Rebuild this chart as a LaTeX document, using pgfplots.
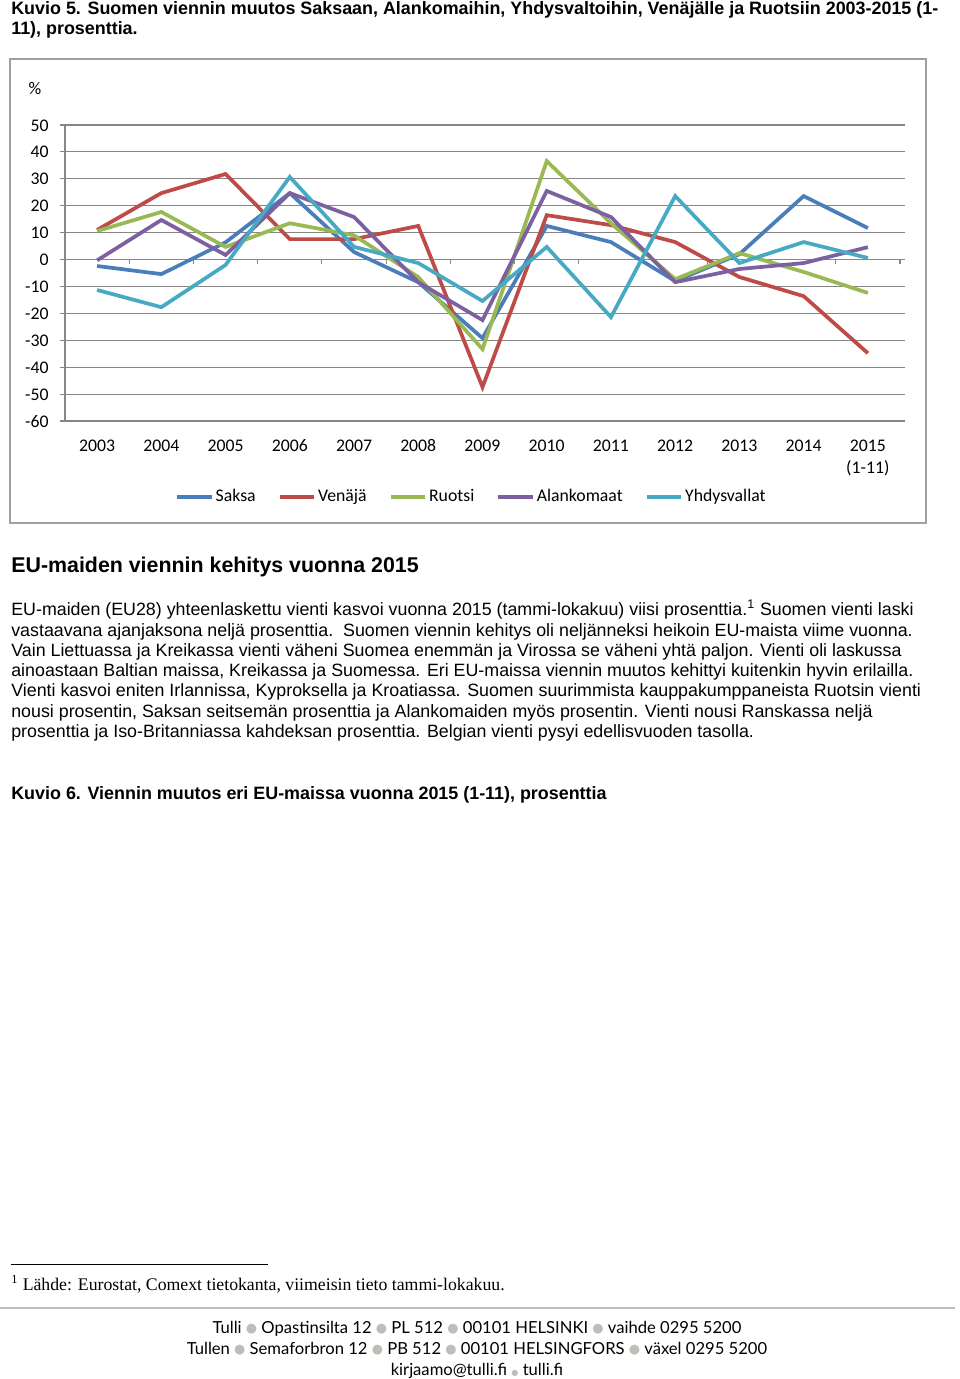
\documentclass[border=0pt]{standalone}
\usepackage{fontspec}
\usepackage{pgfplots}
\usepackage{pgfplotstable}
\usepackage{graphicx}
\pgfplotsset{compat=1.18}
\setmainfont{Liberation Sans}
\newfontfamily\calibri{Carlito}
\newfontfamily\serifont{Liberation Serif}
\newfontfamily\gill{Lato}
\newfontfamily\dejavu{DejaVu Sans}
\definecolor{saksa}{RGB}{74,126,187}
\definecolor{venaja}{RGB}{190,75,72}
\definecolor{ruotsi}{RGB}{152,185,84}
\definecolor{alank}{RGB}{125,96,160}
\definecolor{yhdys}{RGB}{70,170,197}
\definecolor{gridc}{RGB}{134,134,134}
\definecolor{framec}{RGB}{160,160,160}
\definecolor{bul}{RGB}{190,190,185}
\pgfplotstableread{
year Saksa Venaja Ruotsi Alankomaat Yhdys
2003 -2.4 11 10.6 -0.3 -11.3
2004 -5.4 24.7 17.7 14.7 -17.7
2005 6.4 31.8 4.7 1.7 -2
2006 24.7 7.6 13.5 24.7 30.7
2007 2.8 7.6 9 15.8 4.7
2008 -8.4 12.5 -6.5 -8.4 -1.3
2009 -29.2 -47.4 -33.3 -22.5 -15.4
2010 12.5 16.5 36.6 25.5 4.7
2011 6.5 12.8 13.5 15.8 -21.4
2012 -8 6.5 -7.3 -8.4 23.6
2013 2 -6.5 2.4 -3.5 -1.3
2014 23.6 -13.6 -4.6 -1.3 6.5
2015 11.7 -34.8 -12.4 4.6 0.6
}\datatable
\begin{document}
\begin{tikzpicture}[x=0.62pt,y=-0.62pt]
\fill[white] (0,0) rectangle (960,1379);
\path[use as bounding box] (0,0) rectangle (960,1379);
% titles
\node[anchor=base west,inner sep=0,font=\bfseries\fontsize{11.1}{13}\selectfont] at (11,14) {Kuvio 5. Suomen viennin muutos Saksaan, Alankomaihin, Yhdysvaltoihin, Venäjälle ja Ruotsiin 2003-2015 (1-};
\node[anchor=base west,inner sep=0,font=\bfseries\fontsize{11.1}{13}\selectfont] at (11,34) {11), prosenttia.};
% chart frame
\draw[framec,line width=1.2pt] (10,59) rectangle (926,523);
\node[font=\calibri\fontsize{11}{13}\selectfont] at (35,89) {\%};
\coordinate (A) at (65,421);
\begin{axis}[
  at={(A)}, anchor=south west,
  scale only axis, width=517.7pt, height=183.5pt,
  xmin=2002.5, xmax=2015.5, ymin=-60, ymax=50,
  ytick={-60,-50,...,50},
  xtick={2003,...,2015},
  xticklabels={2003,2004,2005,2006,2007,2008,2009,2010,2011,2012,2013,2014,{2015\\(1-11)}},
  axis line style={draw=none},
  ymajorgrids, major grid style={gridc,line width=0.7pt},
  xtick style={draw=none},
  ytick style={draw=gridc,line width=0.7pt},
  tick align=outside, major tick length=3.1pt,
  ticklabel style={font=\calibri\fontsize{11}{13.6}\selectfont},
  typeset ticklabels with strut,
  xticklabel style={align=center,yshift=-3pt},
  yticklabel style={xshift=-3.5pt,yshift=-1pt},
  /pgf/number format/assume math mode=true,
  legend columns=5,
  legend style={draw=none,fill=none,at={(axis description cs:0.4868,-0.2568)},anchor=center,
    font=\calibri\fontsize{11}{13}\selectfont,
    nodes={inner xsep=1.2pt},
    /tikz/every even column/.append style={column sep=12.5pt}},
  legend image code/.code={\draw[#1] (0pt,0pt) -- (21.5pt,0pt);},
  every axis plot/.append style={line width=2.3pt},
  clip=false,
]
\draw[gridc,line width=0.7pt] (axis cs:2002.5,-60) -- (axis cs:2002.5,50);
\pgfplotsinvokeforeach{2002.5,2003.5,...,2015.5}{\draw[gridc,line width=0.7pt] (axis cs:#1,0) -- ([yshift=-3pt]axis cs:#1,0);}
\addplot[saksa] table[x=year,y=Saksa] {\datatable};
\addplot[venaja] table[x=year,y=Venaja] {\datatable};
\addplot[ruotsi] table[x=year,y=Ruotsi] {\datatable};
\addplot[alank] table[x=year,y=Alankomaat] {\datatable};
\addplot[yhdys] table[x=year,y=Yhdys] {\datatable};
\legend{Saksa,Venäjä,Ruotsi,Alankomaat,Yhdysvallat}
\end{axis}
% heading
\node[anchor=base west,inner sep=0,font=\bfseries\fontsize{13.25}{15}\selectfont] at (11,572) {EU-maiden viennin kehitys vuonna 2015};
% body
\begin{scope}[every node/.style={anchor=base west,inner sep=0,font=\fontsize{11.05}{13}\selectfont}]
\node at (11,615) {EU-maiden (EU28) yhteenlaskettu vienti kasvoi vuonna 2015 (tammi-lokakuu) viisi prosenttia.\textsuperscript{1} Suomen vienti laski};
\node at (11,636) {vastaavana ajanjaksona neljä prosenttia.\ \ Suomen viennin kehitys oli neljänneksi heikoin EU-maista viime vuonna.};
\node at (11,656) {Vain Liettuassa ja Kreikassa vienti väheni Suomea enemmän ja Virossa se väheni yhtä paljon. Vienti oli laskussa};
\node at (11,676) {ainoastaan Baltian maissa, Kreikassa ja Suomessa. Eri EU-maissa viennin muutos kehittyi kuitenkin hyvin erilailla.};
\node at (11,696) {Vienti kasvoi eniten Irlannissa, Kyproksella ja Kroatiassa. Suomen suurimmista kauppakumppaneista Ruotsin vienti};
\node at (11,717) {nousi prosentin, Saksan seitsemän prosenttia ja Alankomaiden myös prosentin. Vienti nousi Ranskassa neljä};
\node at (11,737) {prosenttia ja Iso-Britanniassa kahdeksan prosenttia. Belgian vienti pysyi edellisvuoden tasolla.};
\end{scope}
\node[anchor=base west,inner sep=0,font=\bfseries\fontsize{11.1}{13}\selectfont] at (11,799) {Kuvio 6. Viennin muutos eri EU-maissa vuonna 2015 (1-11), prosenttia};
% footnote
\draw[black,line width=0.6pt] (11,1264) -- (268,1264);
\node[anchor=base west,inner sep=0,font=\serifont\fontsize{11}{13}\selectfont] at (11,1290) {\textsuperscript{1} Lähde: Eurostat, Comext tietokanta, viimeisin tieto tammi-lokakuu.};
% footer
\draw[bul,line width=1pt] (0,1308) -- (955,1308);
\newcommand\bu{\raisebox{0.3pt}{\textcolor{bul}{\dejavu\fontsize{8}{9}\selectfont ●}}}
\newcommand\bus{\textcolor{bul}{\dejavu\fontsize{5}{6}\selectfont ●}}
\begin{scope}[every node/.style={anchor=base,inner sep=0,font=\gill\fontsize{10.3}{12}\selectfont}]
\node at (477,1333) {Tulli \bu\ Opastinsilta 12 \bu\ PL 512 \bu\ 00101 HELSINKI \bu\ vaihde 0295 5200};
\node at (477,1354) {Tullen \bu\ Semaforbron 12 \bu\ PB 512 \bu\ 00101 HELSINGFORS \bu\ växel 0295 5200};
\node at (477,1375) {kirjaamo@tulli.fi \bus\ tulli.fi};
\end{scope}
\end{tikzpicture}
\end{document}
